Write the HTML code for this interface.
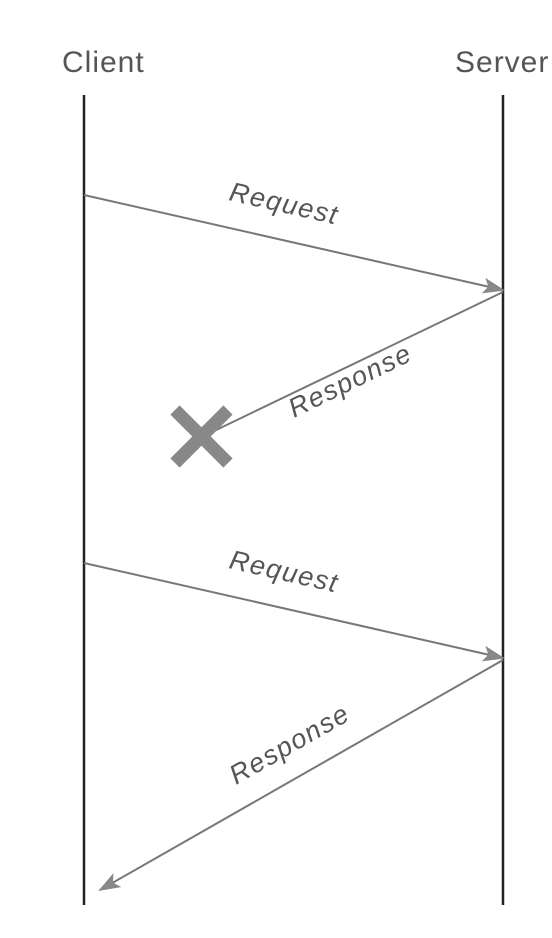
<!DOCTYPE html>
<html><head><meta charset="utf-8"><style>
html,body{margin:0;padding:0;background:#fff;width:552px;height:938px;overflow:hidden}
svg{display:block}
text{font-family:"Liberation Sans",sans-serif;fill:#555}
</style></head><body>
<svg width="552" height="938" viewBox="0 0 552 938">
<defs>
<marker id="ah2" markerWidth="22" markerHeight="16" refX="20" refY="8" orient="auto" markerUnits="userSpaceOnUse" viewBox="0 0 22 16">
<path d="M0,0 L22,8 L0,16 L5,8 z" fill="#888"/></marker>
</defs>
<text x="62" y="72" font-size="30" letter-spacing="1">Client</text>
<text x="455" y="72" font-size="30" letter-spacing="1">Server</text>
<line x1="84" y1="95" x2="84" y2="905" stroke="#222" stroke-width="2.5"/>
<line x1="503" y1="95" x2="503" y2="905" stroke="#222" stroke-width="2.5"/>

<line x1="84" y1="195" x2="503" y2="290" stroke="#777" stroke-width="2" marker-end="url(#ah2)"/>
<text transform="translate(228,200) rotate(12.8)" font-size="27" font-style="italic" letter-spacing="1.5">Request</text>

<line x1="503" y1="292" x2="212" y2="432" stroke="#777" stroke-width="2"/>
<text transform="translate(294,418) rotate(-26)" font-size="27" font-style="italic" letter-spacing="1.5">Response</text>
<g stroke="#888" stroke-width="13">
<line x1="175" y1="410" x2="228" y2="463"/><line x1="228" y1="410" x2="175" y2="463"/></g>

<line x1="84" y1="563" x2="503" y2="658" stroke="#777" stroke-width="2" marker-end="url(#ah2)"/>
<text transform="translate(228,568) rotate(12.8)" font-size="27" font-style="italic" letter-spacing="1.5">Request</text>

<line x1="503" y1="660" x2="100" y2="890" stroke="#777" stroke-width="2" marker-end="url(#ah2)"/>
<text transform="translate(236,785) rotate(-29.7)" font-size="27" font-style="italic" letter-spacing="1.5">Response</text>
</svg>
</body></html>
